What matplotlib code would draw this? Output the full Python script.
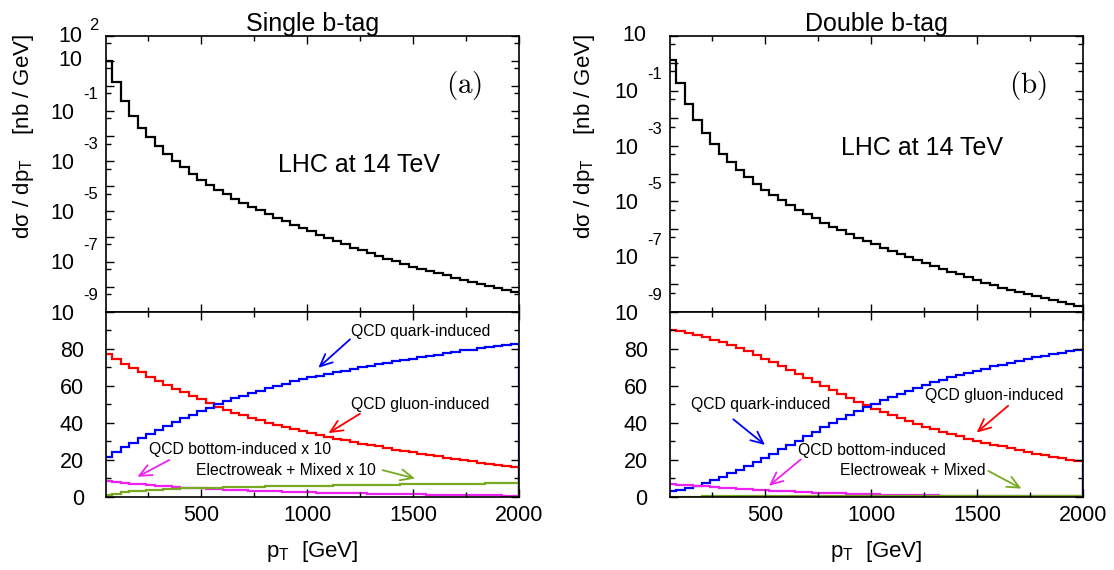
import numpy as np
import matplotlib.pyplot as plt
from matplotlib.ticker import MultipleLocator, FixedLocator, LogLocator, NullFormatter

plt.rcParams['font.family'] = ['Liberation Sans', 'DejaVu Sans']
plt.rcParams['mathtext.fontset'] = 'custom'
plt.rcParams['mathtext.rm'] = 'Liberation Sans'
plt.rcParams['mathtext.it'] = 'Liberation Sans:italic'

# pT bins [GeV], 40 GeV wide
bin_edges = np.arange(40, 2001, 40)

# log10( d sigma / d pT [nb/GeV] )
single_log_xsec = [1.0, 0.17, -0.60, -1.19, -1.66, -2.05, -2.39, -2.70, -3.01, -3.25,
                   -3.50, -3.73, -3.95, -4.13, -4.32, -4.49, -4.66, -4.82, -4.96, -5.10,
                   -5.25, -5.39, -5.52, -5.65, -5.79, -5.92, -6.05, -6.18, -6.31, -6.45,
                   -6.55, -6.67, -6.78, -6.88, -6.99, -7.10, -7.19, -7.28, -7.37, -7.46,
                   -7.54, -7.64, -7.71, -7.81, -7.87, -7.95, -8.03, -8.11, -8.19]
double_log_xsec = [0.12, -0.70, -1.47, -2.05, -2.53, -2.93, -3.28, -3.59, -3.88, -4.13,
                   -4.37, -4.58, -4.78, -4.96, -5.14, -5.31, -5.47, -5.61, -5.77, -5.92,
                   -6.05, -6.18, -6.31, -6.43, -6.55, -6.67, -6.78, -6.90, -7.01, -7.12,
                   -7.23, -7.34, -7.43, -7.54, -7.64, -7.73, -7.83, -7.95, -8.04, -8.12,
                   -8.19, -8.27, -8.34, -8.41, -8.48, -8.55, -8.63, -8.70, -8.77]

# channel fractions [%]
single_gluon = [77.5, 74.5, 72.0, 69.6, 67.3, 65.1, 62.9, 60.7, 58.5, 56.5,
                54.5, 52.7, 50.9, 48.7, 47.1, 45.6, 44.2, 42.7, 41.5, 40.2,
                38.9, 37.8, 36.5, 35.5, 34.4, 33.5, 32.5, 31.6, 30.7, 29.8,
                28.9, 28.2, 27.3, 26.5, 25.6, 24.9, 24.2, 23.5, 22.7, 22.0,
                21.3, 20.5, 19.8, 19.3, 18.5, 18.0, 17.3, 16.7, 16.2]
single_quark = [21.5, 24.5, 27.0, 29.4, 31.7, 33.9, 36.1, 38.3, 40.5, 42.5,
                44.5, 46.3, 48.1, 50.3, 51.9, 53.4, 54.8, 56.3, 57.5, 58.8,
                60.1, 61.2, 62.5, 63.5, 64.6, 65.5, 66.5, 67.4, 68.3, 69.2,
                70.1, 70.8, 71.7, 72.5, 73.4, 74.1, 74.8, 75.5, 76.3, 77.0,
                77.7, 78.5, 79.2, 79.7, 80.5, 81.0, 81.7, 82.3, 82.8]
single_bottom_x10 = [8.7, 8.2, 7.7, 7.2, 6.8, 6.4, 6.0, 5.7, 5.4, 5.1,
                     4.8, 4.6, 4.4, 4.2, 4.0, 3.8, 3.6, 3.5, 3.3, 3.2,
                     3.0, 2.9, 2.7, 2.6, 2.5, 2.4, 2.3, 2.2, 2.1, 2.0,
                     1.9, 1.8, 1.8, 1.7, 1.6, 1.5, 1.5, 1.4, 1.3, 1.3,
                     1.2, 1.2, 1.1, 1.0, 1.0, 0.9, 0.9, 0.8, 0.8]
single_ew_x10 = [1.0, 1.8, 2.5, 3.0, 3.4, 3.7, 4.0, 4.2, 4.4, 4.6,
                 4.8, 4.9, 5.0, 5.1, 5.2, 5.3, 5.4, 5.5, 5.6, 5.7,
                 5.8, 5.9, 5.9, 6.0, 6.1, 6.2, 6.2, 6.3, 6.4, 6.4,
                 6.5, 6.6, 6.6, 6.7, 6.7, 6.8, 6.8, 6.9, 6.9, 7.0,
                 7.0, 7.1, 7.1, 7.2, 7.2, 7.3, 7.3, 7.4, 7.4]

double_gluon = [90.2, 89.5, 88.6, 87.6, 86.4, 85.1, 83.7, 82.2, 80.5, 78.7,
                76.8, 74.8, 72.8, 70.7, 68.6, 66.4, 64.2, 62.0, 59.8, 57.7,
                55.6, 53.5, 51.5, 49.6, 47.7, 45.9, 44.2, 42.6, 41.0, 39.5,
                38.0, 36.6, 35.3, 34.0, 32.8, 31.6, 30.5, 29.4, 28.3, 27.3,
                26.3, 25.3, 24.4, 23.5, 22.6, 21.7, 20.9, 20.1, 19.4]
double_quark = [3.0, 3.7, 4.9, 6.2, 7.6, 9.2, 10.9, 12.7, 14.7, 16.8,
                19.0, 21.3, 23.5, 25.7, 28.0, 30.4, 32.8, 35.2, 37.6, 39.9,
                42.0, 44.3, 46.4, 48.4, 50.4, 52.3, 54.1, 55.8, 57.5, 59.0,
                60.5, 62.0, 63.4, 64.6, 65.9, 67.1, 68.3, 69.4, 70.6, 71.6,
                72.6, 73.6, 74.5, 75.4, 76.4, 77.2, 78.0, 78.8, 79.6]
double_bottom = [6.9, 6.6, 6.3, 6.0, 5.7, 5.4, 5.1, 4.8, 4.5, 4.2,
                 3.9, 3.6, 3.4, 3.2, 3.0, 2.8, 2.6, 2.4, 2.2, 2.0,
                 1.9, 1.8, 1.6, 1.5, 1.4, 1.3, 1.2, 1.1, 1.0, 0.95,
                 0.9, 0.85, 0.8, 0.75, 0.7, 0.65, 0.6, 0.55, 0.5, 0.5,
                 0.45, 0.45, 0.4, 0.4, 0.35, 0.35, 0.3, 0.3, 0.3]
double_ew = [0.2, 0.2, 0.25, 0.25, 0.3, 0.3, 0.3, 0.3, 0.3, 0.35,
             0.35, 0.35, 0.35, 0.4, 0.4, 0.4, 0.4, 0.4, 0.45, 0.45,
             0.45, 0.45, 0.5, 0.5, 0.5, 0.5, 0.5, 0.5, 0.55, 0.55,
             0.55, 0.55, 0.55, 0.6, 0.6, 0.6, 0.6, 0.6, 0.6, 0.65,
             0.65, 0.65, 0.65, 0.65, 0.7, 0.7, 0.7, 0.7, 0.7]

RED, BLUE, MAGENTA, GREEN = '#ff0000', '#0000ff', '#ee22ee', '#77aa22'
TICK_FS = 15.5


def style_axis(ax):
    for s in ax.spines.values():
        s.set_linewidth(1.2)
    ax.tick_params(which='both', direction='in', top=True, right=True, width=1.0)
    ax.tick_params(which='major', length=6)
    ax.tick_params(which='minor', length=3.5)
    ax.set_xlim(50, 2000)
    ax.xaxis.set_major_locator(MultipleLocator(500))
    ax.xaxis.set_minor_locator(MultipleLocator(250))


def log_tick_texts(ax, top_exp, odd_exps):
    # gnuplot-like labels: "10" on the tick, exponent set above it
    tr = ax.get_yaxis_transform()
    kw = dict(xycoords=tr, textcoords='offset points', ha='right', va='center')
    if top_exp == 2:
        ax.annotate('10', xy=(0, 1e2), xytext=(-17, -1), fontsize=TICK_FS, **kw)
        ax.annotate('2', xy=(0, 1e2), xytext=(-5.5, 7), fontsize=12, **kw)
    ax.annotate('10', xy=(0, 1e1), xytext=(-17, 0), fontsize=TICK_FS, **kw)
    for e in odd_exps:
        ax.annotate('10', xy=(0, 10.0 ** e), xytext=(-23, -1.5), fontsize=TICK_FS, **kw)
        ax.annotate(str(e), xy=(0, 10.0 ** e), xytext=(-5.5, 12), fontsize=12, **kw)


def draw_panel(x0, title, tag, log_xsec, top_exp, fracs, notes, lhc_pos, ylab_x):
    w = 0.3707
    ax_top = fig.add_axes([x0, 0.4526, w, 0.4851])
    ax_bot = fig.add_axes([x0, 0.1281, w, 0.3246])

    # cross section
    ax_top.stairs(10.0 ** np.array(log_xsec), bin_edges, color='black', lw=1.6, baseline=None)
    ax_top.set_yscale('log')
    ax_top.set_ylim(1e-9, 10.0 ** top_exp)
    style_axis(ax_top)
    ax_top.yaxis.set_major_locator(FixedLocator(10.0 ** np.arange(-9, top_exp + 1)))
    ax_top.yaxis.set_minor_locator(LogLocator(base=10, subs=[5.0], numticks=20))
    ax_top.yaxis.set_major_formatter(NullFormatter())
    ax_top.yaxis.set_minor_formatter(NullFormatter())
    ax_top.xaxis.set_major_formatter(NullFormatter())
    log_tick_texts(ax_top, top_exp, [-1, -3, -5, -7, -9])
    ax_top.set_title(title, fontsize=18, pad=2)
    ax_top.text(lhc_pos[0], lhc_pos[1], 'LHC at 14 TeV', transform=ax_top.transAxes,
                ha='center', va='center', fontsize=18)
    ax_top.text(0.867, 0.82, '$\\mathrm{' + tag + '}$', transform=ax_top.transAxes,
                ha='center', va='center', fontsize=21, math_fontfamily='cm')
    fig.text(ylab_x, 0.76, 'd\u03c3 / dp$_\\mathrm{T}$    [nb / GeV]', rotation=90,
             ha='center', va='center', fontsize=16)

    # channel fractions
    for vals, c in zip(fracs, [RED, BLUE, MAGENTA, GREEN]):
        ax_bot.stairs(vals, bin_edges, color=c, lw=1.6, baseline=0)
    ax_bot.set_ylim(0, 100)
    style_axis(ax_bot)
    ax_bot.yaxis.set_major_locator(FixedLocator([0, 20, 40, 60, 80, 100]))
    ax_bot.yaxis.set_minor_locator(MultipleLocator(10))
    ax_bot.set_yticklabels(['0', '20', '40', '60', '80', ''])
    ax_bot.tick_params(axis='y', labelsize=TICK_FS, pad=16)
    ax_bot.tick_params(axis='x', labelsize=TICK_FS, pad=6)
    ax_bot.set_xlabel('p$_\\mathrm{T}$  [GeV]', fontsize=16, labelpad=9)

    for text, txy, tail, tip, c in notes:
        ax_bot.text(txy[0], txy[1], text, ha='left', va='center', fontsize=11.3)
        ax_bot.annotate('', xy=tip, xytext=tail,
                        arrowprops=dict(arrowstyle='->,head_length=0.55,head_width=0.25',
                                        color=c, lw=1.3, shrinkA=0, shrinkB=0,
                                        mutation_scale=16))


fig = plt.figure(figsize=(11.14, 5.70), dpi=100)

draw_panel(0.0952, 'Single b-tag', '(a)', single_log_xsec, 2,
           [single_gluon, single_quark, single_bottom_x10, single_ew_x10],
           [('QCD quark-induced', (1207, 89.5), (1202, 85.2), (1052, 69.8), BLUE),
            ('QCD gluon-induced', (1207, 49.8), (1249, 45.0), (1100, 34.5), RED),
            ('QCD bottom-induced x 10', (253, 25.4), (349, 20.0), (198, 10.9), MAGENTA),
            ('Electroweak + Mixed x 10', (475, 14.1), (1356, 14.5), (1509, 10.0), GREEN)],
           (0.613, 0.532), 0.0215)

draw_panel(0.6014, 'Double b-tag', '(b)', double_log_xsec, 1,
           [double_gluon, double_quark, double_bottom, double_ew],
           [('QCD quark-induced', (149, 49.8), (349, 42.0), (499, 28.1), BLUE),
            ('QCD gluon-induced', (1254, 54.7), (1647, 49.3), (1498, 34.8), RED),
            ('QCD bottom-induced', (653, 25.0), (668, 20.3), (517, 6.0), MAGENTA),
            ('Electroweak + Mixed', (853, 14.1), (1553, 14.1), (1710, 4.5), GREEN)],
           (0.61, 0.592), 0.525)

fig.savefig('out.png', dpi=100)
